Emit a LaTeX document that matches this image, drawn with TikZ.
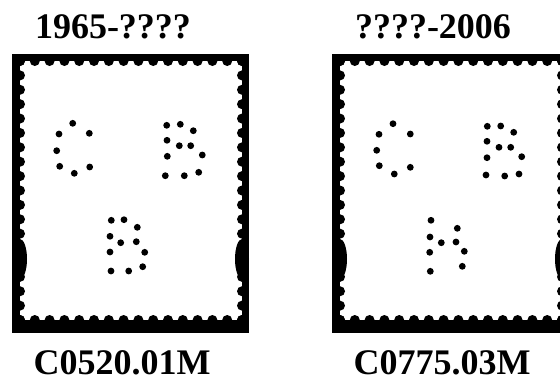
\documentclass[tikz,border=0pt]{standalone}
\usepackage{fontspec}
\setmainfont{Liberation Serif}

\tikzset{
  frame/.style={fill=black},
  paper/.style={fill=white},
  hole/.style={fill=black},
  pin/.style={fill=black},
  label/.style={font=\fontsize{36}{40}\selectfont\bfseries, anchor=base, inner sep=0pt, text depth=0pt}
}

\begin{document}
\begin{tikzpicture}[x=1pt, y=-1pt]
    \useasboundingbox (0,0) rectangle (560,378);
    \clip (0,0) rectangle (560,378);

    % the two stamps, same paper, 320 apart
    \foreach \sx in {0,320} {
      \begin{scope}[xshift=\sx]
        \fill[frame] (12,54) rectangle (249,333);
        \fill[paper] (20,61) rectangle (242,320);
        \foreach \i in {0,...,15} {
          \fill[hole] (20+\i*14.8,61) circle (5);
          \fill[hole] (20+\i*14.8,320) circle (5);
        }
        \foreach \j in {0,...,18} {
          \fill[hole] (20,61+\j*14.39) circle (5);
          \fill[hole] (242,61+\j*14.39) circle (5);
        }
        \fill[hole] (20,259) ellipse (7 and 20);
        \fill[hole] (242,259) ellipse (7 and 20);
      \end{scope}
    }

    % perfins C B B
    \foreach \x/\y in {72.7/123.3, 59/134, 89.3/133.3, 56.7/150.7, 59.7/166.3, 74.3/173.3, 89.7/167,
        166.7/125.3, 180.3/124.3, 193.3/130.7, 167/140.3, 179.3/145.7, 190.7/145.7, 202.3/155,
        167.3/156.3, 165.3/175.7, 184.3/175.7, 198.7/172.3,
        111.3/220.3, 124/219.7, 137.3/227.3, 110/236.3, 120.7/242.7, 136.3/241.7, 144.7/252.3,
        110/252, 111/271, 128.7/271, 142.7/266.7}
      \fill[pin] (\x,\y) circle (3.4);

    % perfins C B K
    \foreach \x/\y in {393/123.7, 379/134.3, 410.3/134, 376.7/150.3, 379.3/165.7, 394.3/174, 410.3/167.3,
        487.3/126.3, 500.7/126, 513.7/132.3, 487/141.3, 499/147.3, 510.7/147.3, 521.7/156.7,
        487/157.7, 486/175, 504.7/176, 519/174,
        431/220.3, 457.3/228.3, 430/237, 441.3/242.7, 456/242, 464.3/251.3, 429.7/252.3,
        462.3/266.3, 430.3/271.3}
      \fill[pin] (\x,\y) circle (3.4);

    \node[label] (early) at (113,38) {1965-????};
    \node[label] (late) at (433,38) {????-2006};
    \node[label] (earlyno) at (122,374) {C0520.01M};
    \node[label] (lateno) at (442,374) {C0775.03M};

  \end{tikzpicture}
\end{document}
